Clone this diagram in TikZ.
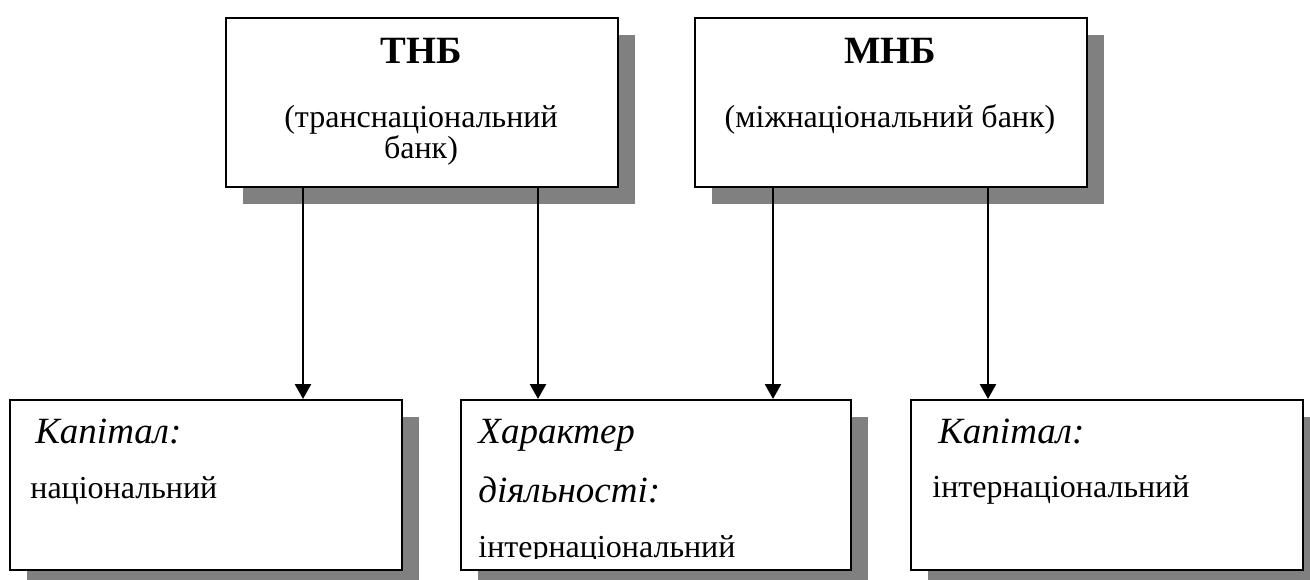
\documentclass[tikz,border=0pt]{standalone}
\usepackage{fontspec}
\setmainfont{Liberation Serif}
\usetikzlibrary{arrows.meta,shadows}
\begin{document}
\begin{tikzpicture}[x=0.5pt,y=-0.5pt,
  box/.style={draw, line width=1.1pt, fill=white, rectangle, inner sep=0pt,
    anchor=north west, minimum height=84.5pt,
    drop shadow={shadow xshift=8.3pt, shadow yshift=-8.5pt, fill=black!50, opacity=1}},
  txt/.style={inner sep=0pt, font=\fontsize{16}{19}\selectfont},
  itxt/.style={inner sep=0pt, font=\fontsize{18.5}{22}\selectfont\itshape},
  head/.style={inner sep=0pt, font=\fontsize{19.3}{23}\selectfont\bfseries},
  link/.style={line width=1.3pt, -{Triangle[length=7.5pt,width=8pt]}}]
\useasboundingbox (0,0) rectangle (1310,579);

% upper boxes
\node[box, minimum width=196pt] (tnb) at (225,17) {};
\node[box, minimum width=196pt] (mnb) at (694,17) {};
% lower boxes
\node[box, minimum width=196pt, minimum height=85pt] (capn) at (9,399) {};
\node[box, minimum width=195pt, minimum height=85pt] (kind) at (460,399) {};
\node[box, minimum width=196pt, minimum height=85pt] (capi) at (910,399) {};

% texts of the upper boxes
\node[head, anchor=base] (tnbh) at (421,63) {ТНБ};
\node[txt, anchor=base] (tnbt1) at (421,127) {(транснаціональний};
\node[txt, anchor=base] (tnbt2) at (421,158) {банк)};
\node[head, anchor=base] (mnbh) at (890,63) {МНБ};
\node[txt, anchor=base] (mnbt) at (890,127) {(міжнаціональний банк)};

% texts of the lower boxes
\node[itxt, anchor=base west] (capnh) at (35,443) {Капітал:};
\node[txt, anchor=base west] (capnt) at (30,498) {національний};
\node[itxt, anchor=base west] (kindh1) at (478,443) {Характер};
\node[itxt, anchor=base west] (kindh2) at (478,502) {діяльності:};
\begin{scope}
  \clip (460,520) rectangle (850,558);
  \node[txt, anchor=base west] (kindt) at (478,557) {інтернаціональний};
\end{scope}
\node[itxt, anchor=base west] (capih) at (938,443) {Капітал:};
\node[txt, anchor=base west] (capit) at (932,497) {інтернаціональний};

% arrow columns
\coordinate (c1) at (303,0);
\coordinate (c2) at (538,0);
\coordinate (c3) at (773,0);
\coordinate (c4) at (988,0);

\draw[link] (tnb.south -| c1) -- (capn.north -| c1);
\draw[link] (tnb.south -| c2) -- (kind.north -| c2);
\draw[link] (mnb.south -| c3) -- (kind.north -| c3);
\draw[link] (mnb.south -| c4) -- (capi.north -| c4);
\end{tikzpicture}
\end{document}
